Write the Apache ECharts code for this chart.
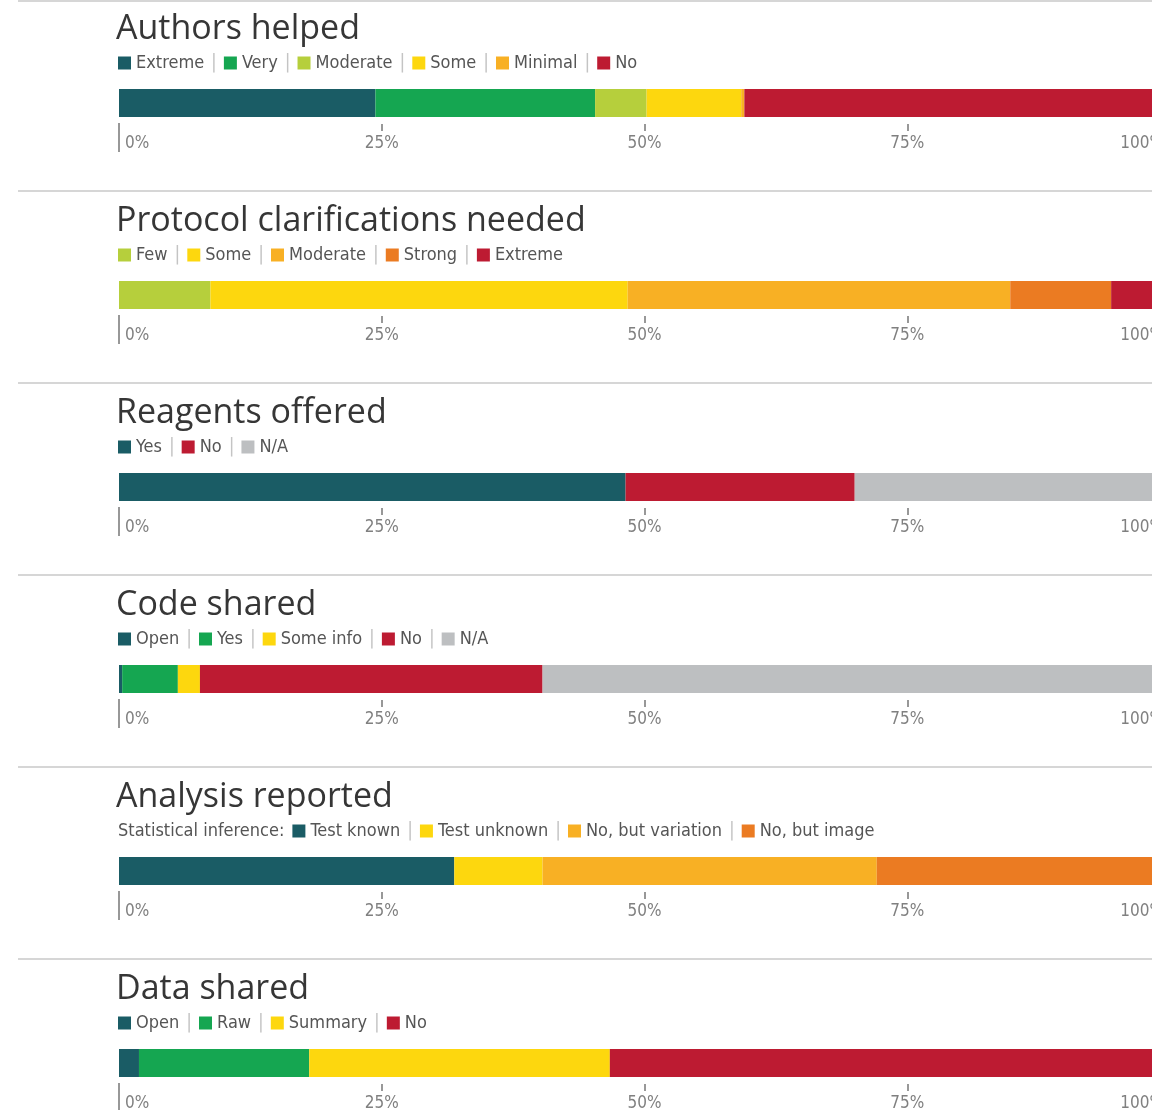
<!DOCTYPE html>
<html><head><meta charset="utf-8">
<script src="https://cdn.jsdelivr.net/npm/echarts@6/dist/echarts.min.js"></script>
<style>html,body{margin:0;padding:0;background:#fff}#c{width:1152px;height:1110px}</style>
</head><body><div id="c"></div>
<script>
// ---- data ----
const panelTitles = ['Authors helped','Protocol clarifications needed','Reagents offered','Code shared','Analysis reported','Data shared'];
const legendPrefixes = ['', '', '', '', 'Statistical inference:', ''];

const authorsCats = ['Extreme','Very','Moderate','Some','Minimal','No'];
const authorsVals = [24.4, 20.9, 4.9, 9.0, 0.3, 40.5];

const protocolCats = ['Few','Some','Moderate','Strong','Extreme'];
const protocolVals = [8.7, 39.7, 36.4, 9.6, 5.6];

const reagentsCats = ['Yes','No','N/A'];
const reagentsVals = [48.2, 21.8, 30.0];

const codeCats = ['Open','Yes','Some info','No','N/A'];
const codeVals = [0.3, 5.3, 2.1, 32.6, 59.7];

const analysisCats = ['Test known','Test unknown','No, but variation','No, but image'];
const analysisVals = [31.9, 8.4, 31.8, 27.9];

const dataCats = ['Open','Raw','Summary','No'];
const dataVals = [1.9, 16.2, 28.6, 53.3];

// ---- styles ----
const C = {teal:'#1a5c65', green:'#15a651', lime:'#b6cf3c', yellow:'#fdd70e', amber:'#f8b024', orange:'#eb7b22', red:'#bd1b32', gray:'#bdbfc1'};
const panelColors = [
  [C.teal, C.green, C.lime, C.yellow, C.amber, C.red],
  [C.lime, C.yellow, C.amber, C.orange, C.red],
  [C.teal, C.red, C.gray],
  [C.teal, C.green, C.yellow, C.red, C.gray],
  [C.teal, C.yellow, C.amber, C.orange],
  [C.teal, C.green, C.yellow, C.red]
];
const panelCats = [authorsCats, protocolCats, reagentsCats, codeCats, analysisCats, dataCats];
const panelVals = [authorsVals, protocolVals, reagentsVals, codeVals, analysisVals, dataVals];

const NARROW = '"Liberation Sans Narrow","DejaVu Sans Condensed","Arial Narrow",sans-serif';
const LEG_FS = 18;
const PANEL_H = 192;

function textWidth(txt, font) {
  const cv = document.createElement('canvas').getContext('2d');
  cv.font = font;
  return cv.measureText(txt).width;
}

const option = {
  animation: false,
  backgroundColor: '#fff',
  grid: [], xAxis: [], yAxis: [], series: [], title: [], legend: [], graphic: []
};

panelTitles.forEach((t, k) => {
  const o = k * PANEL_H;
  const cats = panelCats[k];
  const names = cats.map(c => t + ' \u2013 ' + c);
  const lastName = names[names.length - 1];

  option.graphic.push({
    type: 'line', silent: true,
    shape: {x1: 18, y1: k === 0 ? 1 : o - 1, x2: 1152, y2: k === 0 ? 1 : o - 1},
    style: {stroke: '#d6d6d6', lineWidth: 2}
  });

  option.title.push({
    text: t, left: 116, top: o + 12, padding: 0,
    textStyle: {fontFamily: '"Open Sans",sans-serif', fontSize: 34, fontWeight: 'normal', color: '#363636'}
  });
  let legLeft = 118;
  if (legendPrefixes[k]) {
    option.title.push({
      text: legendPrefixes[k], left: 118, top: o + 53, padding: 0,
      textStyle: {fontFamily: NARROW, fontSize: LEG_FS, lineHeight: 20, fontWeight: 'normal', color: '#555'}
    });
    legLeft = 118 + textWidth(legendPrefixes[k], LEG_FS + 'px ' + NARROW) + 8;
  }

  option.legend.push({
    top: o + 53, left: legLeft, padding: 0,
    icon: 'rect', itemWidth: 13, itemHeight: 13, itemGap: 7,
    selectedMode: false,
    data: names,
    formatter: (n) => {
      const label = n.slice(t.length + 3);
      return n === lastName ? '{t|' + label + '}' : '{t|' + label + '}{s||}';
    },
    textStyle: {
      fontFamily: NARROW, fontSize: LEG_FS, lineHeight: 20, color: '#555',
      rich: {
        t: {fontFamily: NARROW, fontSize: LEG_FS, lineHeight: 20, color: '#555'},
        s: {fontFamily: NARROW, fontSize: LEG_FS + 1, lineHeight: 20, color: '#c4c4c4', padding: [0, 0, 0, 7]}
      }
    }
  });

  option.grid.push({left: 119, top: o + 89, width: 1051, height: 28, outerBoundsMode: 'none', containLabel: false});

  option.xAxis.push({
    type: 'value', gridIndex: k, position: 'bottom', min: 0, max: 100, interval: 25, offset: 7,
    axisLine: {show: false}, splitLine: {show: false},
    axisTick: {show: true, length: 7, lineStyle: {color: '#777', width: 1.5}},
    axisLabel: {
      margin: 11, fontFamily: NARROW, fontSize: 17, color: '#808080',
      alignMinLabel: 'left', alignMaxLabel: 'right',
      formatter: v => v === 0 ? '{a|0%}' : (v === 100 ? '{b|100%}' : v + '%'),
      rich: {
        a: {fontFamily: NARROW, fontSize: 17, color: '#808080', padding: [0, 0, 0, 6]},
        b: {fontFamily: NARROW, fontSize: 17, color: '#808080', padding: [0, 6, 0, 0]}
      }
    }
  });
  option.xAxis.push({
    type: 'value', gridIndex: k, position: 'bottom', min: 0, max: 100, interval: 100, offset: 6,
    axisLine: {show: false}, splitLine: {show: false}, axisLabel: {show: false},
    axisTick: {show: true, length: 29, lineStyle: {color: '#777', width: 1.5}}
  });
  option.yAxis.push({type: 'category', gridIndex: k, data: [''], show: false});

  cats.forEach((c, i) => {
    option.series.push({
      type: 'bar', name: names[i], stack: 'p' + k,
      xAxisIndex: 2 * k, yAxisIndex: k,
      barWidth: '100%',
      itemStyle: {color: panelColors[k][i]},
      data: [panelVals[k][i]]
    });
  });
});

const chart = echarts.init(document.getElementById('c'));
chart.setOption(option);
</script>
</body></html>
